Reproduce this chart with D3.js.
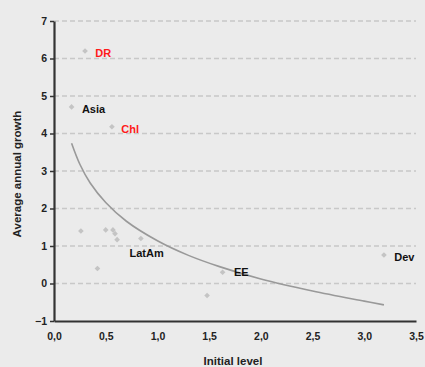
<!DOCTYPE html>
<html>
<head>
<meta charset="utf-8">
<script src="https://cdn.jsdelivr.net/npm/d3@7"></script>
<style>
  body { margin: 0; background: #ebebeb; }
  svg { display: block; font-family: "Liberation Sans", Arial, sans-serif; }
  .tick text { font-size: 10.5px; font-weight: bold; fill: #222; }
  .lbl { font-size: 11px; font-weight: bold; }
  .axis-title { font-size: 11.5px; font-weight: bold; fill: #222; }
</style>
</head>
<body>
<svg id="chart"></svg>
<script>
// scatter points (initial level, average annual growth)
const pointX = [0.30, 0.17, 0.56, 0.26, 0.50, 0.57, 0.59, 0.61, 0.84, 0.42, 1.48, 1.63, 3.19];
const pointY = [6.2, 4.71, 4.18, 1.4, 1.43, 1.43, 1.33, 1.17, 1.2, 0.4, -0.32, 0.3, 0.76];

// labelled groups
const labelNames = ['DR', 'Asia', 'Chl', 'LatAm', 'EE', 'Dev'];
const labelX = [0.40, 0.27, 0.65, 0.73, 1.74, 3.29];
const labelY = [6.05, 4.55, 4.02, 0.7, 0.2, 0.6];
const labelRed = [true, false, true, false, false, false];

// fitted curve
const curveX = [0.17, 0.25, 0.35, 0.5, 0.7, 1.0, 1.3, 1.6, 2.0, 2.5, 3.0, 3.19];
const curveY = [3.74, 3.18, 2.68, 2.16, 1.66, 1.14, 0.75, 0.45, 0.12, -0.2, -0.47, -0.57];

const xTicks = [0, 0.5, 1, 1.5, 2, 2.5, 3, 3.5];
const yTicks = [-1, 0, 1, 2, 3, 4, 5, 6, 7];

const W = 425, H = 367;
const margin = {top: 21, right: 9, bottom: 46, left: 54};

const svg = d3.select('#chart').attr('width', W).attr('height', H);
const chart = svg.append('g').attr('transform', `translate(${margin.left},${margin.top})`);
const width = W - margin.left - margin.right;
const height = H - margin.top - margin.bottom;

const xScale = d3.scaleLinear().domain([0, 3.5]).range([0, width]);
const yScale = d3.scaleLinear().domain([-1, 7]).range([height, 0]);

// dashed grid
chart.append('g')
  .selectAll('line')
  .data(yTicks.filter(d => d > -1))
  .join('line')
  .attr('x1', 0).attr('x2', width)
  .attr('y1', d => yScale(d)).attr('y2', d => yScale(d))
  .attr('stroke', '#c8c8c8')
  .attr('stroke-width', 1.3)
  .attr('stroke-dasharray', '5,3');

const yAxis = d3.axisLeft(yScale).tickValues(yTicks).tickSize(4).tickSizeOuter(0).tickPadding(3);
const xAxis = d3.axisBottom(xScale).tickValues(xTicks).tickSize(0).tickPadding(12)
  .tickFormat(d => d3.format('.1f')(d).replace('.', ','));

chart.append('g').attr('class', 'axis x-axis')
  .attr('transform', `translate(0,${height})`)
  .call(xAxis)
  .call(g => g.select('.domain').attr('stroke', '#333').attr('stroke-width', 2.2));

chart.append('g').attr('class', 'axis y-axis')
  .call(yAxis)
  .call(g => g.select('.domain').attr('stroke', '#333').attr('stroke-width', 2.2))
  .call(g => g.selectAll('.tick line').attr('stroke', '#333').attr('stroke-width', 1.5));

// points (small rotated squares)
const pts = pointX.map((x, i) => ({x, y: pointY[i]}));
chart.append('g')
  .selectAll('path')
  .data(pts)
  .join('path')
  .attr('d', d3.symbol().type(d3.symbolSquare).size(16))
  .attr('transform', d => `translate(${xScale(d.x)},${yScale(d.y)}) rotate(45)`)
  .attr('fill', '#c4c4c4');

// fitted curve
const line = d3.line().x(d => xScale(d[0])).y(d => yScale(d[1])).curve(d3.curveCatmullRom);
chart.append('path')
  .datum(curveX.map((x, i) => [x, curveY[i]]))
  .attr('d', line)
  .attr('fill', 'none')
  .attr('stroke', '#999')
  .attr('stroke-width', 1.6);

// labels
chart.append('g')
  .selectAll('text')
  .data(labelNames)
  .join('text')
  .attr('class', 'lbl')
  .attr('x', (d, i) => xScale(labelX[i]))
  .attr('y', (d, i) => yScale(labelY[i]))
  .attr('fill', (d, i) => labelRed[i] ? '#ff1a1a' : '#111')
  .text(d => d);

svg.append('text')
  .attr('class', 'axis-title')
  .attr('text-anchor', 'middle')
  .attr('transform', 'translate(21,174) rotate(-90)')
  .text('Average annual growth');

svg.append('text')
  .attr('class', 'axis-title')
  .attr('text-anchor', 'middle')
  .attr('x', 233)
  .attr('y', 365)
  .text('Initial level');
</script>
</body>
</html>
